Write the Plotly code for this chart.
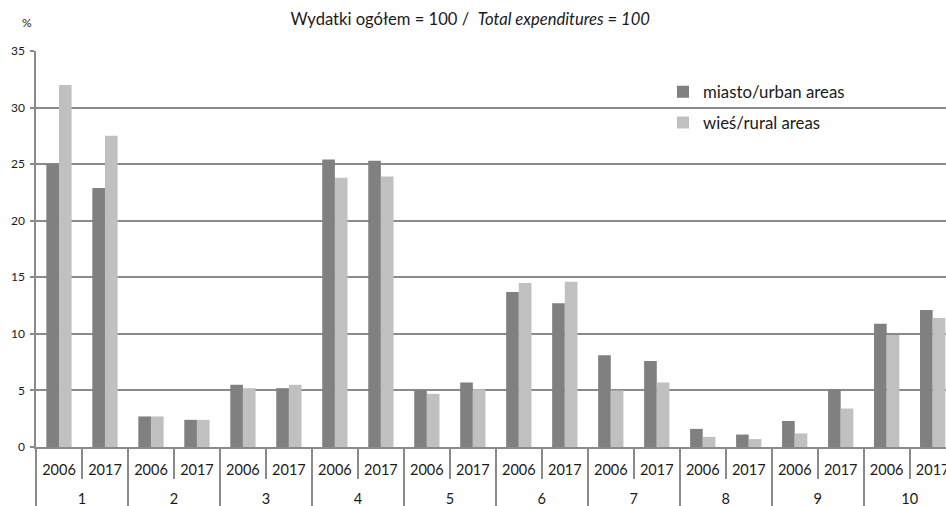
import plotly.graph_objects as go

groups = ["1", "2", "3", "4", "5", "6", "7", "8", "9", "10"]
years = ["2006", "2017"]

# udział w wydatkach ogółem (%)
urban = [25.0, 22.9, 2.7, 2.4, 5.5, 5.2, 25.4, 25.3, 5.0, 5.7,
         13.7, 12.7, 8.1, 7.6, 1.6, 1.1, 2.3, 5.1, 10.9, 12.1]
rural = [32.0, 27.5, 2.7, 2.4, 5.2, 5.5, 23.8, 23.9, 4.7, 5.1,
         14.5, 14.6, 5.0, 5.7, 0.9, 0.7, 1.2, 3.4, 9.9, 11.4]

keys = [f"{g}-{y}" for g in groups for y in years]
year_labels = [y for _ in groups for y in years]
n_years = len(years)
group_centers = [i * n_years + (n_years - 1) / 2 for i in range(len(groups))]
group_edges = [i * n_years - 0.5 for i in range(len(groups) + 1)]

FONT = "Lato, 'Open Sans', sans-serif"
GRID = "#8a8a8a"
TEXT = "#1a1a1a"
X_RANGE = [-0.5, 19.29]

fig = go.Figure()
fig.add_trace(go.Bar(
    x=keys, y=urban, name="miasto/urban areas",
    marker={"color": "#808080", "line": {"width": 0}}, legendgroup="u",
))
fig.add_trace(go.Bar(
    x=keys, y=rural, name="wieś/rural areas",
    marker={"color": "#c0c0c0", "line": {"width": 0}}, legendgroup="r",
))
# empty trace so the overlaid group axis gets drawn
fig.add_trace(go.Scatter(
    x=[], y=[], xaxis="x2", yaxis="y", mode="markers",
    showlegend=False, hoverinfo="skip",
))

fig.update_layout(
    width=946,
    height=506,
    margin={"l": 36, "r": 0, "t": 51, "b": 59},
    paper_bgcolor="white",
    plot_bgcolor="white",
    font={"family": FONT, "size": 12, "color": TEXT},
    barmode="group",
    bargap=0.45,
    bargroupgap=0,
    title={
        "text": "Wydatki ogółem = 100 /  <i>Total expenditures = 100</i>",
        "x": 0.497, "xanchor": "center", "y": 0.9625, "yanchor": "middle",
        "font": {"size": 16.6, "family": FONT, "color": TEXT},
    },
    legend={
        "x": 0.689, "xanchor": "left", "y": 0.941, "yanchor": "top",
        "font": {"size": 16.8, "family": FONT, "color": TEXT},
        "tracegroupgap": 6, "bgcolor": "rgba(0,0,0,0)",
        "traceorder": "grouped",
    },
    annotations=[{
        "text": "%", "xref": "paper", "yref": "paper",
        "x": -0.0096, "y": 1.0, "xanchor": "center", "yanchor": "middle",
        "yshift": 29, "showarrow": False,
        "font": {"size": 12, "family": FONT, "color": TEXT},
    }],
    xaxis={
        "type": "category", "categoryorder": "array", "categoryarray": keys,
        "range": X_RANGE, "automargin": False,
        "tickmode": "array", "tickvals": keys, "ticktext": year_labels,
        "ticks": "", "ticklabelstandoff": 9,
        "showline": True, "linecolor": GRID, "linewidth": 1.5,
        "showgrid": False, "zeroline": False,
        "tickfont": {"size": 14.5, "family": FONT, "color": TEXT},
    },
    # second axis carries the group labels and the separators
    xaxis2={
        "type": "linear", "overlaying": "x", "anchor": "y", "side": "bottom",
        "range": X_RANGE, "automargin": False,
        "tickmode": "array", "tickvals": group_centers, "ticktext": groups,
        "ticks": "outside", "ticklen": 31, "tickcolor": GRID, "tickwidth": 1.5,
        "ticklabelstandoff": 8,
        "minor": {
            "tickmode": "array", "tickvals": group_edges, "ticks": "outside",
            "ticklen": 60, "tickcolor": GRID, "tickwidth": 1.5, "showgrid": False,
        },
        "showline": False, "showgrid": False, "zeroline": False,
        "tickfont": {"size": 14.5, "family": FONT, "color": TEXT},
    },
)
fig.update_yaxes(
    range=[0, 35], dtick=5, showgrid=True, gridcolor=GRID, gridwidth=1.5,
    showline=True, linecolor=GRID, linewidth=1.5,
    ticks="outside", ticklen=4, tickcolor=GRID, tickwidth=1.5,
    ticklabelstandoff=3, zeroline=False, automargin=False,
    tickfont={"size": 12, "family": FONT, "color": TEXT},
)

fig.write_html(
    "out.html",
    config={"displayModeBar": False},
    post_script="document.body.style.margin='0';document.body.style.overflow='hidden';",
)
